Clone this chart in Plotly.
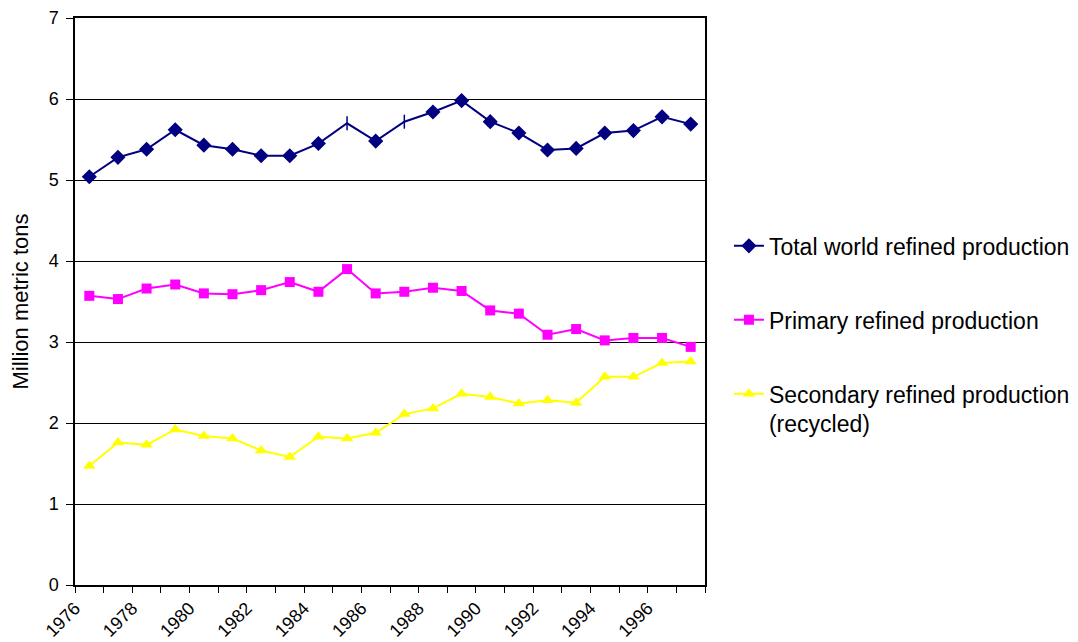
import plotly.graph_objects as go

years = list(range(1976, 1998))
total = [5.04, 5.28, 5.38, 5.62, 5.43, 5.38, 5.30, 5.30, 5.45, 5.70, 5.48,
         5.72, 5.84, 5.98, 5.72, 5.58, 5.37, 5.39, 5.58, 5.61, 5.78, 5.69]
primary = [3.57, 3.53, 3.66, 3.71, 3.60, 3.59, 3.64, 3.74, 3.62, 3.90, 3.60,
           3.62, 3.67, 3.63, 3.39, 3.35, 3.09, 3.16, 3.02, 3.05, 3.05, 2.94]
secondary = [1.47, 1.76, 1.73, 1.92, 1.84, 1.81, 1.66, 1.58, 1.83, 1.81, 1.88,
             2.11, 2.18, 2.36, 2.32, 2.24, 2.28, 2.25, 2.57, 2.57, 2.74, 2.76]
tick_years = list(range(1976, 1998, 2))
tick_labels = [str(y) for y in tick_years]
names = ["Total world refined production",
         "Primary refined production",
         "Secondary refined production<br>(recycled)"]
y_ticks = list(range(0, 8))

FONT = "Liberation Sans, Arial, sans-serif"

# the reference shows two total-series points drawn as a small vertical tick
total_symbols = ["diamond"] * len(years)
total_symbols[years.index(1985)] = "line-ns"
total_symbols[years.index(1987)] = "line-ns"

fig = go.Figure()
fig.add_trace(go.Scatter(
    x=years, y=total, mode="lines+markers", name=names[0], legendgroup="g1",
    line=dict(color="#000080", width=2),
    marker=dict(symbol=total_symbols, size=10, color="#000080",
                line=dict(color="#000080", width=1.5))))
fig.add_trace(go.Scatter(
    x=years, y=primary, mode="lines+markers", name=names[1], legendgroup="g2",
    line=dict(color="#FF00FF", width=2),
    marker=dict(symbol="square", size=10, color="#FF00FF")))
fig.add_trace(go.Scatter(
    x=years, y=secondary, mode="lines+markers", name=names[2], legendgroup="g3",
    line=dict(color="#FFFF00", width=2),
    marker=dict(symbol="triangle-up", size=11, color="#FFFF00")))

# the page body has an 8px margin, so the figure is sized/placed to compensate
fig.update_layout(
    width=1070, height=634,
    margin=dict(l=67, r=373, t=10, b=57, autoexpand=False),
    paper_bgcolor="white", plot_bgcolor="white",
    font=dict(family=FONT, color="black", size=18),
    showlegend=True,
    legend=dict(x=1.038, xanchor="left", y=0.636, yanchor="top",
                font=dict(size=23, family=FONT), tracegroupgap=41,
                traceorder="grouped", valign="top",
                bgcolor="rgba(0,0,0,0)", itemwidth=30),
    xaxis=dict(
        range=[1975.5, 1997.5], tickmode="array", automargin=False,
        tickvals=[y - 0.5 for y in tick_years], ticktext=tick_labels,
        tickangle=-45, ticks="", showgrid=False, zeroline=False,
        ticklabelstandoff=4,
        showline=True, linecolor="black", linewidth=1.5, mirror=True,
        tickfont=dict(size=18, family=FONT),
        minor=dict(tickmode="linear", tick0=1975.5, dtick=1, ticks="outside",
                   ticklen=6, tickcolor="black", tickwidth=1, showgrid=False)),
    yaxis=dict(
        range=[0, 7], tickmode="array", tickvals=y_ticks, automargin=False,
        ticks="outside", ticklen=7, tickcolor="black",
        showgrid=True, gridcolor="black", gridwidth=1, zeroline=False,
        showline=True, linecolor="black", linewidth=1.5, mirror=True,
        ticklabelstandoff=4,
        tickfont=dict(size=18, family=FONT),
        title=dict(text="Million metric tons", font=dict(size=22, family=FONT),
                   standoff=16)),
)

fig.write_html("out.html")
